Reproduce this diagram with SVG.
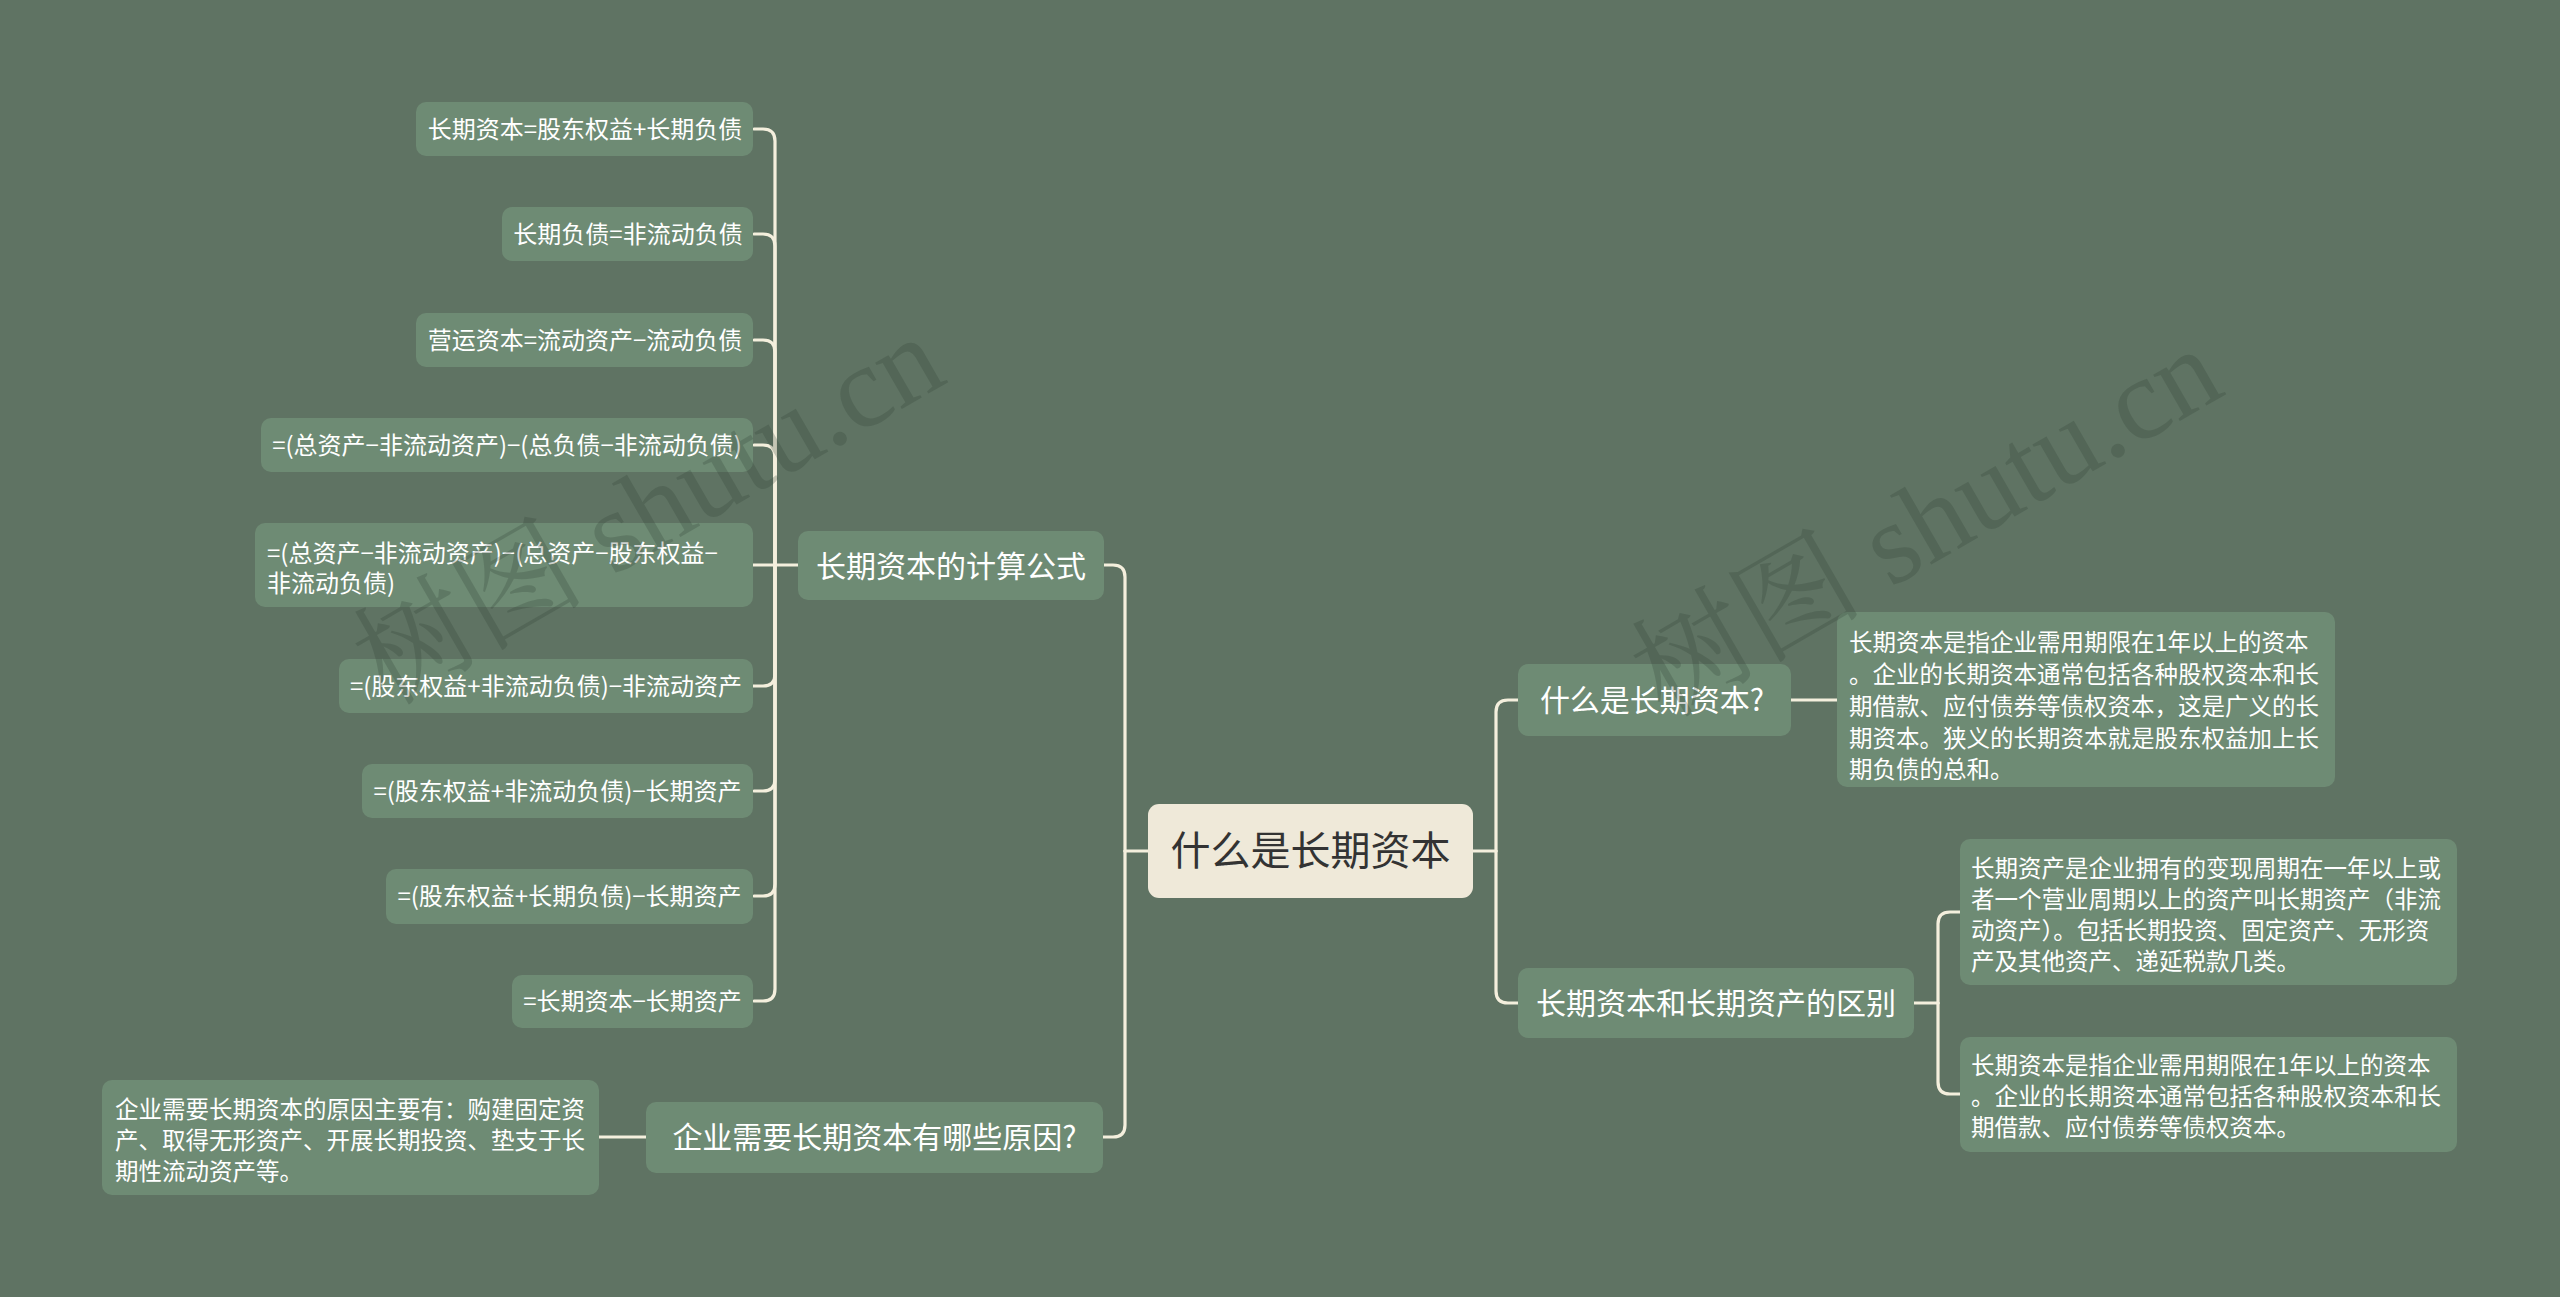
<svg xmlns="http://www.w3.org/2000/svg" width="2560" height="1297" viewBox="0 0 2560 1297">
<style>
.bg{fill:#5f7363}
.node{fill:#6e8b74}
.root{fill:#efe9d9}
.t{font-family:"Noto Sans CJK SC","Noto Sans",sans-serif;fill:#ffffff}
.leaf{font-size:24px}
.leafm{font-size:23.5px}
.br{font-size:30px}
.rt{font-size:40px;fill:#333333}
.mid{text-anchor:middle}
.conn path{fill:none;stroke:#f4efdd;stroke-width:3.2;stroke-linecap:round}
.wm{font-family:"Liberation Serif","Noto Serif CJK SC","Noto Sans CJK SC",serif;font-size:116px;fill:#2f3d31;fill-opacity:0.24;text-anchor:middle}
</style>
<rect class="bg" x="0" y="0" width="2560" height="1297"/>

<g id="connectors" class="conn">
  <path d="M1148 851 H1125"/>
  <path d="M1125 851 V577 Q1125 565 1113 565 H1104"/>
  <path d="M1125 851 V1125 Q1125 1137 1113 1137 H1103"/>
  <path d="M798 565 H753"/>
  <path d="M775 565 V141 Q775 129 763 129 H754"/>
  <path d="M775 565 V246 Q775 234 763 234 H754"/>
  <path d="M775 565 V352 Q775 340 763 340 H754"/>
  <path d="M775 565 V457 Q775 445 763 445 H754"/>
  <path d="M775 565 V674 Q775 686 763 686 H753"/>
  <path d="M775 565 V779 Q775 791 763 791 H754"/>
  <path d="M775 565 V884 Q775 896 763 896 H754"/>
  <path d="M775 565 V989 Q775 1001 763 1001 H754"/>
  <path d="M646 1137 H599"/>
  <path d="M1473 851 H1496"/>
  <path d="M1496 851 V712 Q1496 700 1508 700 H1518"/>
  <path d="M1496 851 V991 Q1496 1003 1508 1003 H1518"/>
  <path d="M1791 700 H1837"/>
  <path d="M1914 1003 H1938"/>
  <path d="M1938 1003 V924 Q1938 912 1950 912 H1960"/>
  <path d="M1938 1003 V1082 Q1938 1094 1950 1094 H1960"/>
</g>

<g id="root">
  <rect class="root" x="1148" y="804" width="325" height="94" rx="11"/>
  <text class="t rt mid" x="1310.5" y="865">什么是长期资本</text>
</g>

<g id="b-formula">
  <rect class="node" x="798" y="531" width="306" height="69" rx="10"/>
  <text class="t br mid" x="951" y="577">长期资本的计算公式</text>
</g>
<g id="b-reason">
  <rect class="node" x="646" y="1102" width="457" height="71" rx="10"/>
  <text class="t br mid" x="874.5" y="1148">企业需要长期资本有哪些原因?</text>
</g>
<g id="b-what">
  <rect class="node" x="1518" y="664" width="273" height="72" rx="10"/>
  <text class="t br mid" x="1652" y="711">什么是长期资本?</text>
</g>
<g id="b-diff">
  <rect class="node" x="1518" y="968" width="396" height="70" rx="10"/>
  <text class="t br mid" x="1716" y="1014">长期资本和长期资产的区别</text>
</g>

<g id="l1">
  <rect class="node" x="416" y="102" width="337" height="54" rx="10"/>
  <text class="t leaf mid" x="585" y="138">长期资本=股东权益+长期负债</text>
</g>
<g id="l2">
  <rect class="node" x="502" y="207" width="251" height="54" rx="10"/>
  <text class="t leaf mid" x="628" y="243">长期负债=非流动负债</text>
</g>
<g id="l3">
  <rect class="node" x="416" y="313" width="337" height="54" rx="10"/>
  <text class="t leaf mid" x="585" y="349">营运资本=流动资产−流动负债</text>
</g>
<g id="l4">
  <rect class="node" x="261" y="418" width="492" height="54" rx="10"/>
  <text class="t leaf mid" x="507" y="454">=(总资产−非流动资产)−(总负债−非流动负债)</text>
</g>
<g id="l5">
  <rect class="node" x="255" y="523" width="498" height="84" rx="10"/>
  <text class="t leaf" x="267" y="562">=(总资产−非流动资产)−(总资产−股东权益−</text>
  <text class="t leaf" x="267" y="592">非流动负债)</text>
</g>
<g id="l6">
  <rect class="node" x="339" y="659" width="414" height="54" rx="10"/>
  <text class="t leaf mid" x="546" y="695">=(股东权益+非流动负债)−非流动资产</text>
</g>
<g id="l7">
  <rect class="node" x="362" y="764" width="391" height="54" rx="10"/>
  <text class="t leaf mid" x="557.5" y="800">=(股东权益+非流动负债)−长期资产</text>
</g>
<g id="l8">
  <rect class="node" x="386" y="869" width="367" height="55" rx="10"/>
  <text class="t leaf mid" x="569.5" y="905">=(股东权益+长期负债)−长期资产</text>
</g>
<g id="l9">
  <rect class="node" x="512" y="975" width="241" height="53" rx="10"/>
  <text class="t leaf mid" x="632.5" y="1010">=长期资本−长期资产</text>
</g>

<g id="l-reason">
  <rect class="node" x="102" y="1080" width="497" height="115" rx="10"/>
  <text class="t leafm" x="115" y="1118">企业需要长期资本的原因主要有：购建固定资</text>
  <text class="t leafm" x="115" y="1149">产、取得无形资产、开展长期投资、垫支于长</text>
  <text class="t leafm" x="115" y="1180">期性流动资产等。</text>
</g>

<g id="r-what">
  <rect class="node" x="1837" y="612" width="498" height="175" rx="10"/>
  <text class="t leafm" x="1849" y="651">长期资本是指企业需用期限在1年以上的资本</text>
  <text class="t leafm" x="1849" y="683">。企业的长期资本通常包括各种股权资本和长</text>
  <text class="t leafm" x="1849" y="715">期借款、应付债券等债权资本，这是广义的长</text>
  <text class="t leafm" x="1849" y="747">期资本。狭义的长期资本就是股东权益加上长</text>
  <text class="t leafm" x="1849" y="778">期负债的总和。</text>
</g>
<g id="r-diff-a">
  <rect class="node" x="1960" y="839" width="497" height="146" rx="10"/>
  <text class="t leafm" x="1971" y="877">长期资产是企业拥有的变现周期在一年以上或</text>
  <text class="t leafm" x="1971" y="908">者一个营业周期以上的资产叫长期资产（非流</text>
  <text class="t leafm" x="1971" y="939">动资产）。包括长期投资、固定资产、无形资</text>
  <text class="t leafm" x="1971" y="970">产及其他资产、递延税款几类。</text>
</g>
<g id="r-diff-b">
  <rect class="node" x="1960" y="1037" width="497" height="115" rx="10"/>
  <text class="t leafm" x="1971" y="1074">长期资本是指企业需用期限在1年以上的资本</text>
  <text class="t leafm" x="1971" y="1105">。企业的长期资本通常包括各种股权资本和长</text>
  <text class="t leafm" x="1971" y="1136">期借款、应付债券等债权资本。</text>
</g>

<g id="watermarks">
  <text class="wm" transform="translate(668,544) rotate(-30)">树图 shutu.cn</text>
  <text class="wm" transform="translate(1946,556) rotate(-30)">树图 shutu.cn</text>
</g>
</svg>
